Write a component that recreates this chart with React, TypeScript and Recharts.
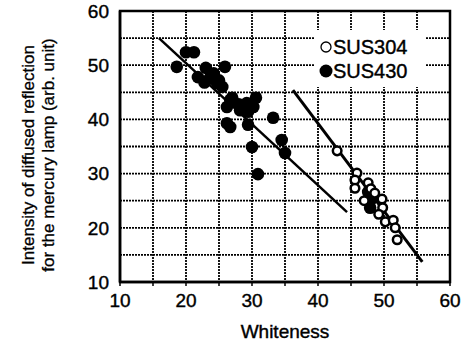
import React from "react";
import {
  ScatterChart,
  Scatter,
  XAxis,
  YAxis,
  CartesianGrid,
  ReferenceLine,
  ReferenceArea,
} from "recharts";

// whiteness / intensity pairs
const SUS304_WHITENESS = [42.9, 45.9, 45.6, 45.6, 47.6, 48.0, 48.6, 49.7, 49.8, 49.2, 50.2, 51.4, 51.7, 52.0, 47.0];
const SUS304_INTENSITY = [34.2, 30.1, 28.8, 27.3, 28.3, 27.2, 26.4, 25.3, 23.7, 22.5, 21.1, 21.4, 20.0, 17.8, 25.0];

const SUS430_WHITENESS = [
  20.0, 21.2, 18.6, 21.8, 23.6, 25.9, 23.0, 24.2, 22.8, 24.7, 25.5, 27.0, 26.2, 26.7, 30.6, 29.2,
  28.2, 30.2, 29.4, 26.2, 26.7, 29.4, 33.2, 30.0, 34.5, 35.0, 30.9, 47.9, 48.3, 47.6, 25.0, 28.0,
];
const SUS430_INTENSITY = [
  52.4, 52.4, 49.7, 47.8, 47.6, 49.7, 49.5, 48.5, 46.8, 46.7, 46.0, 44.0, 42.3, 43.6, 44.0, 43.0,
  41.7, 42.3, 41.4, 39.3, 38.6, 39.0, 40.3, 34.9, 36.2, 33.8, 29.9, 23.7, 25.5, 26.6, 47.2, 42.8,
];

// regression line end points
const FIT_304 = [
  { x: 36.2, y: 45.4 },
  { x: 55.8, y: 13.7 },
];
const FIT_430 = [
  { x: 15.9, y: 55.0 },
  { x: 44.4, y: 22.9 },
];

const X_TICKS = [10, 15, 20, 25, 30, 35, 40, 45, 50, 55, 60];
const Y_TICKS = [10, 15, 20, 25, 30, 35, 40, 45, 50, 55, 60];

const sus304 = SUS304_WHITENESS.map((x, i) => ({ x, y: SUS304_INTENSITY[i] }));
const sus430 = SUS430_WHITENESS.map((x, i) => ({ x, y: SUS430_INTENSITY[i] }));

const FONT = "'Liberation Sans', Arial, sans-serif";
// the scan makes the lettering look heavy
const TEXT_STYLE = { fill: "#000", fontSize: 19, fontFamily: FONT, stroke: "#000", strokeWidth: 0.4 };

const filledDot = (p: any) => <circle cx={p.cx} cy={p.cy} r={6.3} fill="#000" />;
const openDot = (p: any) => (
  <circle cx={p.cx} cy={p.cy} r={4.3} fill="#fff" stroke="#000" strokeWidth={2.5} />
);

const tickFmt = (v: number) => (v % 10 === 0 ? String(v) : "");

function YLabel() {
  return (
    <g fontFamily={FONT} fontSize={17} fill="#000" stroke="#000" strokeWidth={0.3}>
      <text x={28} y={155} transform="rotate(-90 28 155)" textAnchor="middle" dominantBaseline="central">
        Intensity of diffused reflection
      </text>
      <text x={48} y={155} transform="rotate(-90 48 155)" textAnchor="middle" dominantBaseline="central">
        for the mercury lamp (arb. unit)
      </text>
    </g>
  );
}

export default function App() {
  return (
    <div style={{ position: "absolute", left: 0, top: 0, width: 464, height: 345, background: "#fff" }}>
      <ScatterChart width={464} height={345} margin={{ top: 11, right: 14, bottom: 0, left: 0 }}>
        <CartesianGrid stroke="#000" strokeWidth={1.8} strokeDasharray="2 1" />
        <XAxis
          type="number"
          dataKey="x"
          domain={[10, 60]}
          ticks={X_TICKS}
          tickFormatter={tickFmt}
          interval={0}
          height={63}
          tickSize={4}
          tickMargin={8}
          axisLine={{ stroke: "#000", strokeWidth: 2.5 }}
          tickLine={{ stroke: "#000", strokeWidth: 1.5 }}
          tick={TEXT_STYLE}
          label={{ value: "Whiteness", position: "insideBottom", offset: 7, ...TEXT_STYLE }}
        />
        <YAxis
          type="number"
          dataKey="y"
          domain={[10, 60]}
          ticks={Y_TICKS}
          tickFormatter={tickFmt}
          interval={0}
          width={120}
          tickSize={0}
          tickMargin={11}
          axisLine={{ stroke: "#000", strokeWidth: 2.5 }}
          tick={TEXT_STYLE}
          label={<YLabel />}
        />
        <ReferenceArea x1={10} x2={60} y1={10} y2={60} fill="none" stroke="#000" strokeWidth={2.5} />
        <ReferenceLine segment={FIT_430} stroke="#000" strokeWidth={2.5} />
        <ReferenceLine segment={FIT_304} stroke="#000" strokeWidth={3} />
        <Scatter data={sus430} shape={filledDot} isAnimationActive={false} />
        <Scatter data={sus304} shape={openDot} isAnimationActive={false} />
      </ScatterChart>
      <div
        style={{
          position: "absolute",
          left: 315,
          top: 30,
          width: 110,
          height: 57,
          background: "#fff",
          fontFamily: FONT,
          fontSize: 20,
          color: "#000",
          lineHeight: "24px",
          WebkitTextStroke: "0.4px #000",
        }}
      >
        <div style={{ display: "flex", alignItems: "center", marginTop: 5 }}>
          <svg width={14} height={14} style={{ marginLeft: 4 }}>
            <circle cx={7} cy={7} r={5} fill="#fff" stroke="#000" strokeWidth={1.3} />
          </svg>
          <span>SUS304</span>
        </div>
        <div style={{ display: "flex", alignItems: "center" }}>
          <svg width={14} height={14} style={{ marginLeft: 4 }}>
            <circle cx={7} cy={7} r={6.5} fill="#000" />
          </svg>
          <span>SUS430</span>
        </div>
      </div>
    </div>
  );
}
